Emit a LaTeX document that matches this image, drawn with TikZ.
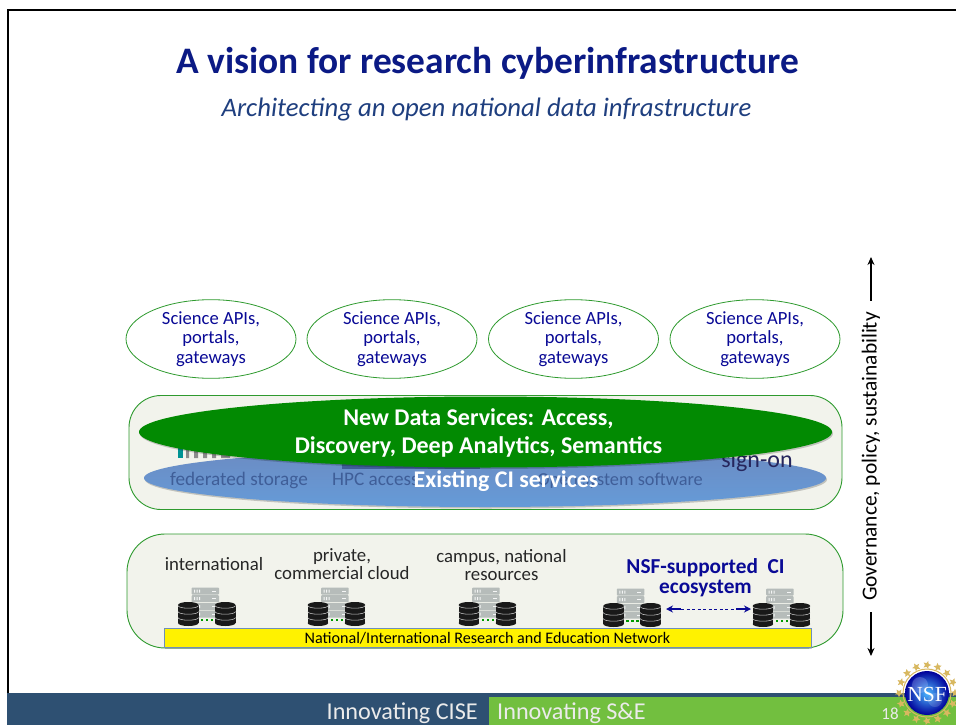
\documentclass[tikz,border=0pt]{standalone}
\usepackage{fontspec}
\setmainfont{Carlito}
\newfontfamily\logofont{Liberation Serif}
\usetikzlibrary{shapes.geometric,shadows,arrows.meta,calc}
\definecolor{titlenavy}{HTML}{0B1A85}
\definecolor{subblue}{HTML}{1F3F7F}
\definecolor{gwblue}{HTML}{0A0A96}
\definecolor{boxfill}{HTML}{F2F3EC}
\definecolor{boxline}{HTML}{2E9A2E}
\definecolor{newgreen}{HTML}{028A02}
\definecolor{oldtop}{HTML}{6C8BC2}
\definecolor{oldbot}{HTML}{659BD8}
\definecolor{muted}{HTML}{3F5E98}
\definecolor{footblue}{HTML}{2E5072}
\definecolor{footgreen}{HTML}{72BF3F}
\definecolor{srv}{HTML}{B6BCBA}
\definecolor{gold}{HTML}{D8B860}
\definecolor{barline}{HTML}{6F8FB8}
\newcommand{\fs}[2]{\fontsize{#1}{#2}\selectfont}
\tikzset{
  x=1pt,y=-1pt,
  gwell/.style={draw=boxline,line width=.8pt,fill=white,ellipse,minimum width=170pt,minimum height=78pt,inner sep=0pt,align=center,text=gwblue,font=\fs{18.6}{19.8}},
  layerbox/.style={draw=boxline,line width=.9pt,fill=boxfill,rounded corners=#1,inner sep=0pt},
  lbl/.style={align=center,text=black!85,font=\fs{18.8}{18}},
  hiddenlbl/.style={text=muted,inner sep=0pt,font=\fs{19.2}{20}},
  footlbl/.style={text=white!92!black,inner sep=0pt,font=\fs{24.2}{24}},
  softshadow/.style={drop shadow={shadow xshift=1pt,shadow yshift=-1.5pt,opacity=.2,fill=black}},
  dbdisc/.pic={
    \fill[black!90] (0,3) rectangle (20.5,21);
    \fill[black!90] (10.25,3) ellipse [x radius=10.25pt,y radius=3pt];
    \fill[black!90] (10.25,21) ellipse [x radius=10.25pt,y radius=3pt];
    \foreach \k in {3.6,9.6,15.6}{
      \draw[black!22,line width=.55pt] (0,\k) arc[start angle=180,end angle=360,x radius=10.25pt,y radius=2.6pt];
    }
  },
  dbgroup/.pic={
    \foreach \r in {-14.5,-6.8,1,8.7}{
      \fill[srv,rounded corners=.8pt] (13.5,\r) rectangle (41,\r+7);
      \fill[white!85!srv] (16,\r+2) rectangle (17,\r+5) (18.5,\r+2) rectangle (19.5,\r+5) (21,\r+2) rectangle (22,\r+5);
      \fill[white!85!srv] (34,\r+3) rectangle (38,\r+4);
    }
    \pic at (0,0) {dbdisc};
    \pic at (37,0) {dbdisc};
    \foreach \d in {24,29,34}{\fill[green!60!black] (\d-1.2,16.8) rectangle (\d+1.2,19.2);}
  }
}
\begin{document}
\begin{tikzpicture}
\useasboundingbox (0,0) rectangle (956,725);
\fill[white] (0,0) rectangle (956,725);
% slide edge
\draw[black,line width=1.4pt] (956,10) -- (8,10) -- (8,693);
% footer
\fill[footblue] (7.3,693) rectangle (956,725);
\fill[footgreen] (489,697) rectangle (956,725);
\node[footlbl,anchor=base east] (cise) at (478,719.5) {Innovating CISE};
\node[footlbl,anchor=base west] (se) at (497,719.5) {Innovating S\&E};
\node[text=white!92!black,font=\fs{17}{17},anchor=base] (pg) at (890,719) {18};
% logo
\foreach \a in {0,22.5,...,337.5}{
  \node[star,star points=5,star point ratio=2.2,fill=gold,minimum size=8.5pt,inner sep=0pt,rotate=-\a] (st\a) at ($(927,693)+(\a:28pt)$) {};
}
\draw[gold,line width=1pt] (927,693) circle (24pt);
\shade[inner color=blue!40!cyan!70!white,outer color=blue!60!black] (927,693) circle (22pt);
\fill[blue!20!white,opacity=.25] (920,685) circle (8pt);
\fill[white,opacity=.15] (935,700) circle (7pt);
\node[text=white,font=\logofont\fs{21.5}{22},inner sep=0pt] (nsf) at (927,694) {NSF};
% title
\node[text=titlenavy,font=\bfseries\fs{37.4}{38}] (title) at (488,63) {A vision for research cyberinfrastructure};
\node[text=subblue,font=\itshape\fs{26.7}{27}] (sub) at (486.5,110) {Architecting an open national data infrastructure};
% top ellipses
\node[gwell] (g1) at (211,339) {Science APIs,\\portals,\\gateways};
\node[gwell] (g2) at (392,339) {Science APIs,\\portals,\\gateways};
\node[gwell] (g3) at (573.5,339) {Science APIs,\\portals,\\gateways};
\node[gwell] (g4) at (755,339) {Science APIs,\\portals,\\gateways};
% services layer
\node[layerbox=32pt,minimum width=713pt,minimum height=114pt] (svc) at (485.5,452.5) {};
\fill[teal!85!cyan] (178,446) rectangle (183,458);
\fill[black!45] (186,449) rectangle (189,458) (194,450) rectangle (198,458) (203,450) rectangle (207,458) (212,451) rectangle (216,458) (221,452) rectangle (230,458);
\node[ellipse,minimum width=682pt,minimum height=58pt,inner sep=0pt,top color=oldtop,bottom color=oldbot,softshadow] (old) at (485,478) {};
\fill[muted] (342,460) rectangle (480,469);
\node[hiddenlbl,anchor=base] (fed) at (239,485) {federated storage};
\node[hiddenlbl,anchor=base west] (hpc) at (332,485) {HPC access};
\node[hiddenlbl,font=\fs{18.3}{20},anchor=base east] (sys) at (703,485) {Open system software};
\node[text=blue!25!black!85,font=\fs{24}{24},anchor=base] (sign) at (757,467) {sign-on};
\node[ellipse,fill=newgreen,minimum width=693pt,minimum height=71pt,inner sep=0pt,softshadow] (new) at (485.5,432) {};
\node[text=white,align=center,font=\bfseries\fs{24}{28}] (newt) at (478.5,432.5) {New Data Services: Access,\\Discovery, Deep Analytics, Semantics};
\node[text=white,font=\bfseries\fs{23.9}{24}] (oldt) at (506,481.5) {Existing CI services};
% resources layer
\node[layerbox=38pt,minimum width=716pt,minimum height=114pt] (res) at (485,591) {};
\node[lbl,anchor=base] (l1) at (214,570) {international};
\node[lbl] (l2) at (342,564.5) {private,\\commercial cloud};
\node[lbl] (l3) at (501.5,565.5) {campus, national\\resources};
\node[text=gwblue,align=center,font=\bfseries\fs{21.3}{19.6}] (l4) at (705.5,577.5) {NSF-supported\ \ CI\\ecosystem};
\pic at (178,602) {dbgroup};
\pic at (307.7,602) {dbgroup};
\pic at (458.7,602) {dbgroup};
\pic at (603.3,603) {dbgroup};
\pic at (752.7,603) {dbgroup};
\node[draw=barline,line width=.9pt,fill=yellow,minimum width=647pt,minimum height=19pt,inner sep=0pt,font=\fs{16.1}{16},text=black,softshadow] (net) at (487.5,638) {National/International Research and Education Network};
\coordinate (al) at (666,609);
\coordinate (ar) at (751,609);
\coordinate (als) at (681,609);
\coordinate (ars) at (736,609);
\draw[gwblue,line width=1.3pt,{Stealth[length=7pt,width=7pt]}-] (al) -- (als);
\draw[gwblue,line width=1.3pt,-{Stealth[length=7pt,width=7pt]}] (ars) -- (ar);
\draw[gwblue,line width=.9pt,dash pattern=on 3pt off 2.5pt] (als) -- (ars);
% governance
\node[rotate=90,text=black,font=\fs{21.4}{21},inner xsep=11pt,inner ysep=0pt] (gov) at (871,456.5) {Governance, policy, sustainability};
\coordinate (gt) at (871,257);
\coordinate (gb) at (871,656);
\draw[black,line width=1.5pt,-{Stealth[length=8pt,width=7pt]}] (gov.east) -- (gt);
\draw[black,line width=1.5pt,-{Stealth[length=8pt,width=7pt]}] (gov.west) -- (gb);
\end{tikzpicture}
\end{document}
